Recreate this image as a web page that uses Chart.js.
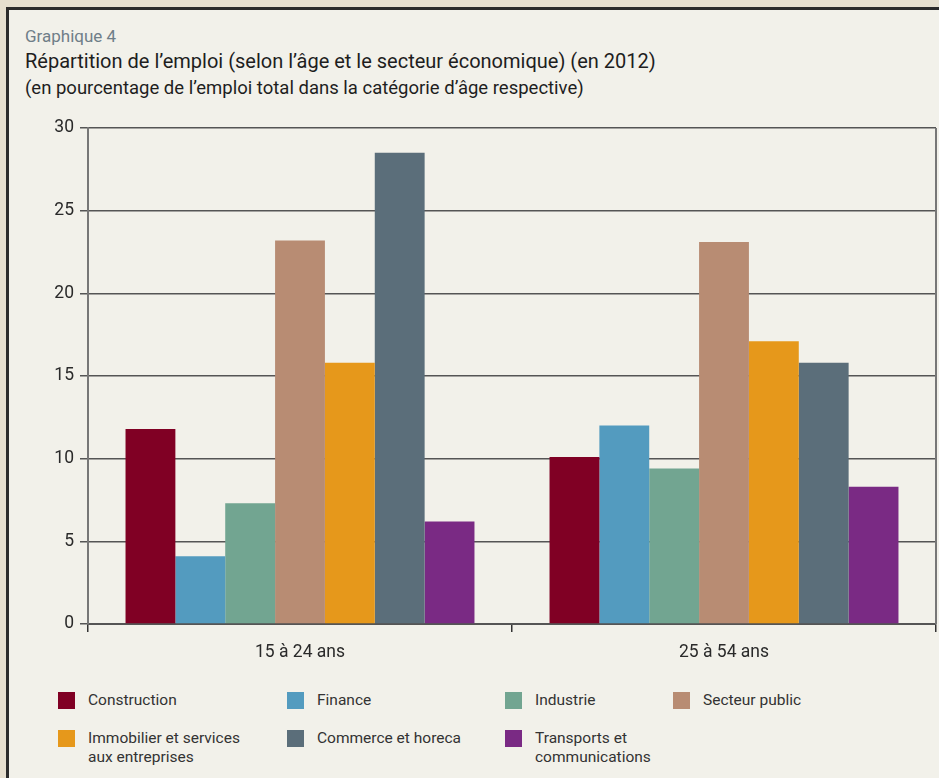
<!DOCTYPE html>
<html><head><meta charset="utf-8">
<script src="https://cdn.jsdelivr.net/npm/chart.js@4.4.1/dist/chart.umd.min.js"></script>
<style>
html,body{margin:0;padding:0;width:939px;height:778px;overflow:hidden;background:#e6dfcf;font-family:Roboto,"Noto Sans",sans-serif;}
#frame{position:absolute;left:6px;top:7px;width:1000px;height:1000px;border:3px solid #2b2b2b;background:#f2f1ea;}
.t{position:absolute;white-space:nowrap;}
#g{left:25px;top:26px;font-size:17px;color:#6f7e88;}
#h{left:25px;top:49px;font-size:20px;color:#1e1e1e;}
#s{left:25px;top:77px;font-size:18.5px;color:#1e1e1e;}
#wrap{position:absolute;left:0;top:110px;width:939px;height:560px;}
.li{position:absolute;font-size:15.5px;color:#333;line-height:19px;}
.sq{position:absolute;width:17px;height:17px;}
</style></head>
<body>
<div id="frame"></div>
<div class="t" id="g">Graphique 4</div>
<div class="t" id="h">Répartition de l’emploi (selon l’âge et le secteur économique) (en 2012)</div>
<div class="t" id="s">(en pourcentage de l’emploi total dans la catégorie d’âge respective)</div>
<div id="wrap"><canvas id="c" width="939" height="560"></canvas></div>
<div id="legend"></div>
<script>
const categories = ["15 à 24 ans", "25 à 54 ans"];
const seriesNames = ["Construction", "Finance", "Industrie", "Secteur public", "Immobilier et services aux entreprises", "Commerce et horeca", "Transports et communications"];
const legendLines = [["Construction"], ["Finance"], ["Industrie"], ["Secteur public"], ["Immobilier et services", "aux entreprises"], ["Commerce et horeca"], ["Transports et", "communications"]];
const construction = [11.8, 10.1];
const finance = [4.1, 12.0];
const industrie = [7.3, 9.4];
const secteurPublic = [23.2, 23.1];
const immobilier = [15.8, 17.1];
const commerce = [28.5, 15.8];
const transports = [6.2, 8.3];
const colors = ["#800024", "#539bbf", "#72a591", "#b88c73", "#e6981b", "#5b6e7a", "#7a2a84"];
const yTicks = [0, 5, 10, 15, 20, 25, 30];

const seriesValues = [construction, finance, industrie, secteurPublic, immobilier, commerce, transports];

const rightBorder = {
  id: 'rightBorder',
  beforeDatasetsDraw(chart) {
    const {ctx, chartArea} = chart;
    ctx.save();
    ctx.strokeStyle = '#777';
    ctx.lineWidth = 2;
    ctx.beginPath();
    ctx.moveTo(chartArea.right, chartArea.top);
    ctx.lineTo(chartArea.right, chartArea.bottom);
    ctx.stroke();
    ctx.restore();
  }
};

new Chart(document.getElementById('c'), {
  type: 'bar',
  data: {
    labels: categories,
    datasets: seriesNames.map((n, i) => ({
      label: n,
      data: seriesValues[i],
      backgroundColor: colors[i],
      borderWidth: 0,
      barPercentage: 1,
      categoryPercentage: 0.823
    }))
  },
  options: {
    responsive: false,
    animation: false,
    devicePixelRatio: 1,
    layout: {padding: {top: 18, right: 3, left: 0, bottom: 0}},
    plugins: {legend: {display: false}, tooltip: {enabled: false}},
    scales: {
      x: {
        afterFit(s) { s.height = 46; },
        grid: {drawOnChartArea: false, drawTicks: true, tickLength: 8, color: '#333', lineWidth: 1.5, offset: true},
        border: {color: '#555', width: 2},
        ticks: {color: '#2a2a2a', font: {family: 'Roboto', size: 17.5}, padding: 10}
      },
      y: {
        min: 0, max: 30,
        afterFit(s) { s.width = 88; },
        afterBuildTicks(s) { s.ticks = yTicks.map(v => ({value: v})); },
        grid: {color: '#555', lineWidth: 1.5, tickLength: 8},
        border: {color: '#777', width: 2},
        ticks: {color: '#2a2a2a', font: {family: 'Roboto', size: 17.5}, padding: 6}
      }
    }
  },
  plugins: [rightBorder]
});

const lg = document.getElementById('legend');
const colX = [58, 287, 505, 673];
const rowY = [692, 730];
seriesNames.forEach((n, i) => {
  const cx = colX[i % 4], ry = rowY[Math.floor(i / 4)];
  const sq = document.createElement('div');
  sq.className = 'sq';
  sq.style.left = cx + 'px'; sq.style.top = ry + 'px'; sq.style.background = colors[i];
  lg.appendChild(sq);
  const t = document.createElement('div');
  t.className = 'li';
  t.style.left = (cx + 30) + 'px'; t.style.top = (ry - 1) + 'px';
  t.innerHTML = legendLines[i].join('<br>');
  lg.appendChild(t);
});
</script>
</body></html>
